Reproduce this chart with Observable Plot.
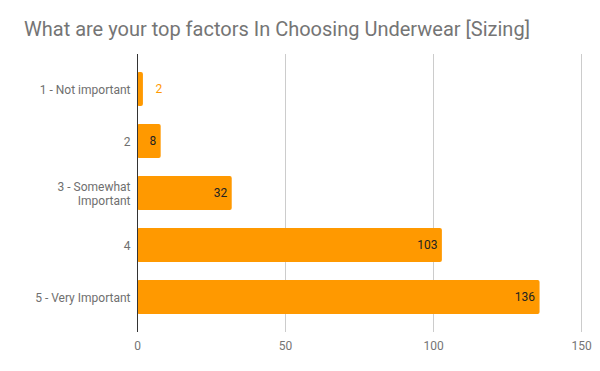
<!DOCTYPE html>
<html>
<head>
<meta charset="utf-8">
<script src="https://cdn.jsdelivr.net/npm/d3@7"></script>
<script src="https://cdn.jsdelivr.net/npm/@observablehq/plot@0.6"></script>
<style>
  html, body { margin: 0; padding: 0; background: #fff; }
  #wrap { width: 600px; height: 371px; position: relative; overflow: hidden; font-family: Roboto, sans-serif; }
  #title { position: absolute; left: 24px; top: 17px; font-size: 20px; color: #757575; line-height: 24px; white-space: nowrap; }
  #chart { position: absolute; left: 0; top: 40px; }
</style>
</head>
<body>
<div id="wrap">
  <div id="title">What are your top factors In Choosing Underwear [Sizing]</div>
  <div id="chart"></div>
</div>
<script>
const categories = ["1 - Not important", "2", "3 - Somewhat Important", "4", "5 - Very Important"];
const values = [2, 8, 32, 103, 136];
const xTicks = [0, 50, 100, 150];
const wrappedLabels = {"3 - Somewhat Important": "3 - Somewhat\nImportant"};

const data = categories.map((c, i) => ({category: c, value: values[i]}));

const chart = Plot.plot({
  width: 600,
  height: 331,
  marginTop: 14,
  marginBottom: 39,
  marginLeft: 137,
  marginRight: 19,
  style: {fontFamily: "Roboto, sans-serif", fontSize: "12px", background: "transparent"},
  x: {domain: [0, 150], ticks: xTicks},
  y: {domain: categories, paddingInner: 0.346, paddingOuter: 0.346},
  marks: [
    Plot.gridX(xTicks.filter(t => t > 0), {stroke: "#cccccc", strokeOpacity: 1}),
    Plot.barX(data, {x: "value", y: "category", fill: "#ff9900", rx: 2}),
    Plot.ruleX([0], {stroke: "#333333", strokeWidth: 1}),
    Plot.axisX({ticks: xTicks, tickSize: 0, tickPadding: 9, fill: "#757575", label: null, fontSize: 12}),
    Plot.axisY({tickSize: 0, tickPadding: 7, fill: "#6f6f6f", label: null, lineHeight: 1.2, fontSize: 12,
      tickFormat: d => wrappedLabels[d] || d}),
    Plot.text(data.filter(d => d.value >= 5), {x: "value", y: "category", text: d => String(d.value),
      textAnchor: "end", dx: -5, fill: "#222222", fontSize: 12}),
    Plot.text(data.filter(d => d.value < 5), {x: "value", y: "category", text: d => String(d.value),
      textAnchor: "start", dx: 12, fill: "#ff9900", fontSize: 12})
  ]
});
document.getElementById("chart").appendChild(chart);
</script>
</body>
</html>
